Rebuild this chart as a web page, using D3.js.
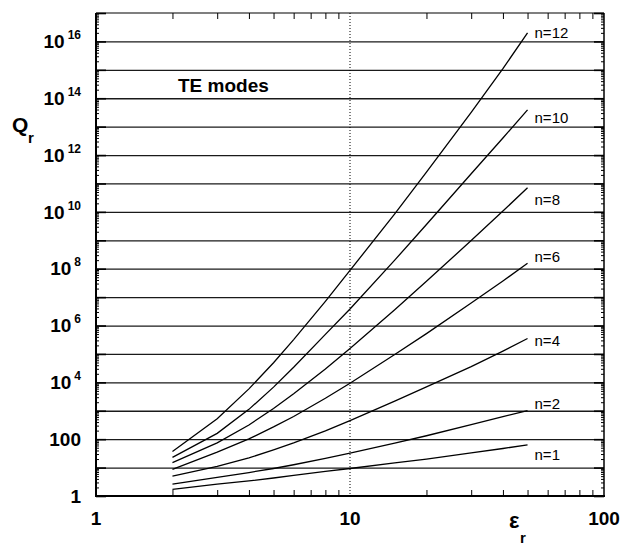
<!DOCTYPE html>
<html>
<head>
<meta charset="utf-8">
<script src="https://cdn.jsdelivr.net/npm/d3@7"></script>
<style>
  body { margin: 0; background: #fff; }
  text { font-family: Arial, "Liberation Sans", sans-serif; fill: #000; }
</style>
</head>
<body>
<div id="chart"></div>
<script>
// permittivity values where Q was computed
var eps = [2, 3, 4, 5, 6, 8, 10, 15, 20, 30, 40, 50];
var modes = ["n=1", "n=2", "n=4", "n=6", "n=8", "n=10", "n=12"];

// radiation Q, one list per mode
var qN1  = [1.7, 2.6, 3.4, 4.3, 5.3, 7.3, 9.3, 14.6, 20, 33, 47, 63];
var qN2  = [2.6, 4.5, 6.7, 9.3, 12.6, 21, 32, 72, 132, 324, 617, 1020];
var qN4  = [5.0, 11, 22, 42, 74, 195, 450, 2200, 6900, 3.6e4, 1.26e5, 3.5e5];
var qN6  = [8.7, 35, 102, 270, 630, 2750, 9300, 9.5e4, 5.2e5, 6.2e6, 3.7e7, 1.55e8];
var qN8  = [15, 74, 316, 1200, 4000, 2.95e4, 1.55e5, 3.6e6, 3.6e7, 9.8e8, 1.07e10, 7.1e10];
var qN10 = [23, 160, 1120, 6800, 3.4e4, 4.9e5, 3.8e6, 2e8, 3.6e9, 2.2e11, 4e12, 3.9e13];
var qN12 = [37, 525, 5900, 4.9e4, 3.2e5, 7.1e6, 8.7e7, 8.5e9, 2.5e11, 3.2e13, 1.1e15, 2e16];
var series = [qN1, qN2, qN4, qN6, qN8, qN10, qN12];

// where the "n=" labels sit (Q value at the label's middle)
var labelQ = [28, 1.7e3, 2.9e5, 2.6e8, 2.6e10, 2e13, 2e16];

var yLabelExp = [0, 2, 4, 6, 8, 10, 12, 14, 16];
var xLabels = [1, 10, 100];

var width = 623, height = 556,
    margin = {top: 13, right: 19, bottom: 60, left: 96};
var w = width - margin.left - margin.right,
    h = height - margin.top - margin.bottom;

var svg = d3.select("#chart").append("svg")
    .attr("width", width)
    .attr("height", height);
var g = svg.append("g")
    .attr("transform", "translate(" + margin.left + "," + margin.top + ")");

var x = d3.scaleLog().domain([1, 100]).range([0, w]);
var y = d3.scaleLog().domain([1, 1e17]).range([h, 0]);

var decades = d3.range(0, 18).map(function(k) { return Math.pow(10, k); });
var yMinor = [];
d3.range(0, 17).forEach(function(k) {
  d3.range(2, 10).forEach(function(m) { yMinor.push(m * Math.pow(10, k)); });
});
var xMinor = [2, 3, 4, 5, 6, 7, 8, 9, 20, 30, 40, 50, 60, 70, 80, 90];

function clean(sel) {
  sel.select(".domain").remove();
  sel.selectAll("line").attr("stroke", "#000");
}

// horizontal grid, one line per decade
g.append("g")
    .call(d3.axisLeft(y).tickValues(decades.slice(1, 17)).tickSize(-w).tickFormat(""))
    .call(clean)
    .selectAll("line").attr("stroke", "#1a1a1a").attr("stroke-width", 1.3);

// dotted line at eps = 10
g.append("line")
    .attr("x1", x(10)).attr("x2", x(10))
    .attr("y1", 0).attr("y2", h)
    .attr("stroke", "#000")
    .attr("stroke-width", 1)
    .attr("stroke-dasharray", "1,2");

// ticks, all pointing inward
g.append("g").attr("transform", "translate(0," + h + ")")
    .call(d3.axisBottom(x).tickValues(xMinor).tickSize(-6).tickFormat("")).call(clean);
g.append("g")
    .call(d3.axisTop(x).tickValues(xMinor).tickSize(-6).tickFormat("")).call(clean);
g.append("g")
    .call(d3.axisLeft(y).tickValues(yMinor).tickSize(-3).tickFormat("")).call(clean);
g.append("g").attr("transform", "translate(" + w + ",0)")
    .call(d3.axisRight(y).tickValues(yMinor).tickSize(-3).tickFormat("")).call(clean);
g.append("g")
    .call(d3.axisLeft(y).tickValues(decades).tickSize(-10).tickFormat("")).call(clean)
    .selectAll("line").attr("stroke-width", 1.6);
g.append("g").attr("transform", "translate(" + w + ",0)")
    .call(d3.axisRight(y).tickValues(decades).tickSize(-10).tickFormat("")).call(clean)
    .selectAll("line").attr("stroke-width", 1.6);

// frame
g.append("line").attr("x1", 0).attr("x2", w).attr("y1", 0).attr("y2", 0)
    .attr("stroke", "#000").attr("stroke-width", 1.2);
g.append("line").attr("x1", w).attr("x2", w).attr("y1", 0).attr("y2", h)
    .attr("stroke", "#000").attr("stroke-width", 1.5);
g.append("line").attr("x1", 0).attr("x2", 0).attr("y1", 0).attr("y2", h + 1)
    .attr("stroke", "#000").attr("stroke-width", 2);
g.append("line").attr("x1", -1).attr("x2", w + 1).attr("y1", h).attr("y2", h)
    .attr("stroke", "#000").attr("stroke-width", 2);

// curves
var line = d3.line()
    .x(function(d) { return x(d[0]); })
    .y(function(d) { return y(d[1]); });

g.selectAll(".curve")
  .data(series)
  .enter().append("path")
    .attr("class", "curve")
    .attr("fill", "none")
    .attr("stroke", "#000")
    .attr("stroke-width", 1.3)
    .attr("d", function(s) { return line(eps.map(function(e, i) { return [e, s[i]]; })); });

g.selectAll(".mode")
  .data(modes)
  .enter().append("text")
    .attr("class", "mode")
    .attr("x", x(eps[eps.length - 1]) + 7)
    .attr("y", function(d, i) { return y(labelQ[i]); })
    .attr("dy", "0.35em")
    .style("font-size", "15px")
    .text(function(d) { return d; });

// y tick labels with superscript exponents
var yl = g.selectAll(".ylab")
  .data(yLabelExp)
  .enter().append("text")
    .attr("class", "ylab")
    .attr("x", -15)
    .attr("y", function(k) { return y(Math.pow(10, k)); })
    .attr("dy", "0.35em")
    .attr("text-anchor", "end")
    .style("font-weight", "bold")
    .style("font-size", "19px");
yl.filter(function(k) { return k < 4; })
    .text(function(k) { return k === 0 ? "1" : "100"; });
yl.filter(function(k) { return k >= 4; }).each(function(k) {
  var t = d3.select(this);
  t.append("tspan").text("10");
  t.append("tspan").attr("dx", 3).attr("dy", -9)
      .style("font-size", "12px").text(k);
});

g.selectAll(".xlab")
  .data(xLabels)
  .enter().append("text")
    .attr("class", "xlab")
    .attr("x", function(d) { return x(d); })
    .attr("y", h + 29)
    .attr("text-anchor", "middle")
    .style("font-weight", "bold")
    .style("font-size", "19px")
    .text(function(d) { return d; });

// axis titles and note
svg.append("text").attr("x", 12).attr("y", 132)
    .style("font-weight", "bold").style("font-size", "21px").text("Q");
svg.append("text").attr("x", 28).attr("y", 143)
    .style("font-weight", "bold").style("font-size", "15px").text("r");
svg.append("text").attr("x", 509).attr("y", 528)
    .style("font-weight", "bold").style("font-size", "22px").text("ε");
svg.append("text").attr("x", 520).attr("y", 543)
    .style("font-weight", "bold").style("font-size", "15px").text("r");
svg.append("text").attr("x", 178).attr("y", 92)
    .style("font-weight", "bold").style("font-size", "19px").text("TE modes");
</script>
</body>
</html>
